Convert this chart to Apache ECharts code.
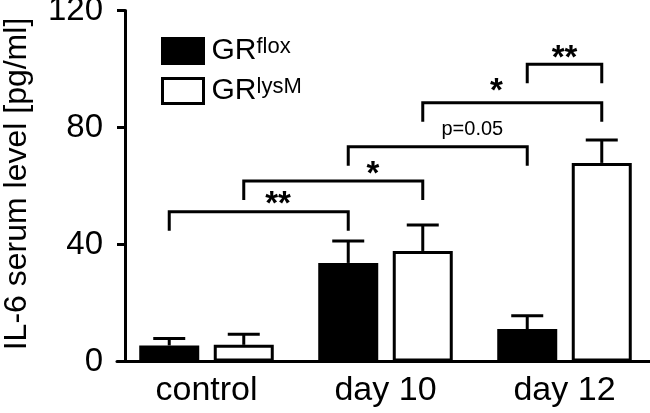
<!DOCTYPE html>
<html><head><meta charset="utf-8">
<script src="https://cdn.jsdelivr.net/npm/echarts@6/dist/echarts.min.js"></script>
<style>html,body{margin:0;padding:0;background:#fff}#c{width:650px;height:413px}</style>
</head><body><div id="c"></div>
<script>
// ---- data ----
const categories = ['control', 'day 10', 'day 12'];
const seriesNames = ['GRflox', 'GRlysM'];
const seriesSup = ['flox', 'lysM'];
const floxMean = [5.5, 33.7, 11.1];
const floxErr = [2.4, 7.5, 4.5];
const lysmMean = [5.7, 37.8, 67.9];
const lysmErr = [3.6, 8.9, 7.8];
const yTicks = [0, 40, 80, 120];
const yTitle = 'IL-6 serum level [pg/ml]';
// significance brackets: [category, series] endpoints, bracket level (pg/ml)
const bracketFrom = [[0, 0], [0, 1], [1, 0], [1, 1], [2, 0]];
const bracketTo = [[1, 0], [1, 1], [2, 0], [2, 1], [2, 1]];
const bracketLevel = [51.2, 61.7, 73.4, 88.5, 101.6];
const bracketLabel = ['**', '*', 'p=0.05', '*', '**'];
const bracketLabelAt = [0.40, 0.93, 1.485, 1.62, 2.0];     // category units
const bracketLabelLevel = [55.9, 66.2, 79.3, 94.5, 105.8]; // pg/ml

// ---- style ----
const FONT = '"Liberation Sans", Arial, Helvetica, sans-serif';
const BAR_W = 60, BAR_GAP = 0.242, BORDER = 3;
const HALF = BAR_W * (1 + BAR_GAP) / 2;
const DROP = 19, CAP = 16, LW = 3;

const chart = echarts.init(document.getElementById('c'), null, { renderer: 'canvas' });

function catX(api, v) {
  const i0 = Math.floor(v), fr = v - i0;
  const a = api.coord([i0, 0])[0];
  if (fr === 0) return a;
  const b = api.coord([i0 + 1 < categories.length ? i0 + 1 : i0 - 1, 0])[0];
  const step = i0 + 1 < categories.length ? (b - a) : (a - b);
  return a + step * fr;
}

function errSeries(means, errs, side) {
  return {
    type: 'custom',
    z: 3,
    clip: false,
    data: means.map((m, i) => [i, m, errs[i]]),
    encode: { x: 0, y: 1 },
    renderItem: function (params, api) {
      const base = api.coord([api.value(0), api.value(1)]);
      const top = api.coord([api.value(0), api.value(1) + api.value(2)]);
      const x = base[0] + (side === 0 ? -HALF : HALF);
      return {
        type: 'group',
        children: [
          { type: 'line', shape: { x1: x, y1: base[1], x2: x, y2: top[1] }, style: { stroke: '#000', lineWidth: LW } },
          { type: 'line', shape: { x1: x - CAP, y1: top[1], x2: x + CAP, y2: top[1] }, style: { stroke: '#000', lineWidth: LW } }
        ]
      };
    }
  };
}

const bracketSeries = {
  type: 'custom',
  z: 4,
  clip: false,
  data: bracketLevel.map((lv, i) => [bracketFrom[i][0], lv]),
  encode: { x: 0, y: 1 },
  renderItem: function (params, api) {
    const i = params.dataIndex;
    const f = bracketFrom[i], t = bracketTo[i];
    const y = api.coord([0, bracketLevel[i]])[1];
    const x1 = api.coord([f[0], 0])[0] + (f[1] === 0 ? -HALF : HALF);
    const x2 = api.coord([t[0], 0])[0] + (t[1] === 0 ? -HALF : HALF);
    const lx = catX(api, bracketLabelAt[i]);
    const ly = api.coord([0, bracketLabelLevel[i]])[1];
    const isStar = bracketLabel[i].indexOf('*') >= 0;
    return {
      type: 'group',
      children: [
        { type: 'polyline', shape: { points: [[x1, y + DROP], [x1, y], [x2, y], [x2, y + DROP]] },
          style: { stroke: '#000', lineWidth: LW, fill: null } },
        { type: 'text', x: lx, y: ly + (isStar ? 7 : 0),
          style: { text: bracketLabel[i], fill: '#000', font: (isStar ? 'bold 33px ' : '20px ') + FONT,
                   align: 'center', verticalAlign: 'middle' } }
      ]
    };
  }
};

const option = {
  animation: false,
  backgroundColor: '#fff',
  grid: { left: 117, top: 10.5, width: 537, height: 351, containLabel: false, outerBoundsMode: 'none' },
  legend: {
    orient: 'vertical', left: 156, top: 31,
    icon: 'rect',
    itemWidth: 41, itemHeight: 25, itemGap: 10,
    data: seriesNames,
    itemStyle: { borderWidth: 3, borderColor: '#000' },
    formatter: function (name) {
      const k = seriesNames.indexOf(name);
      return '{a|GR}{b|' + seriesSup[k] + '}';
    },
    textStyle: {
      color: '#000', fontFamily: FONT, fontSize: 30,
      rich: {
        a: { fontSize: 30, fontFamily: FONT, color: '#000', padding: [0, 0, 0, 3] },
        b: { fontSize: 22, fontFamily: FONT, color: '#000', verticalAlign: 'top' }
      }
    }
  },
  xAxis: {
    type: 'category', data: categories,
    axisLine: { show: true, lineStyle: { color: '#000', width: 3 } },
    axisTick: { show: false },
    axisLabel: { fontSize: 34, color: '#000', fontFamily: FONT, margin: 12 },
    splitLine: { show: false }
  },
  yAxis: {
    type: 'value', min: yTicks[0], max: yTicks[yTicks.length - 1], interval: yTicks[1] - yTicks[0],
    offset: -8,
    name: yTitle, nameLocation: 'middle', nameGap: 92, nameRotate: 90,
    nameTextStyle: { fontSize: 32, color: '#000', fontFamily: FONT, padding: [0, 0, 0, 4] },
    axisLine: { show: true, lineStyle: { color: '#000', width: 3 } },
    axisTick: { show: true, length: 8, lineStyle: { color: '#000', width: 3 } },
    axisLabel: { fontSize: 33, color: '#000', fontFamily: FONT, margin: 22 },
    splitLine: { show: false }
  },
  series: [
    { name: seriesNames[0], type: 'bar', data: floxMean, barWidth: BAR_W, barGap: (BAR_GAP * 100) + '%',
      itemStyle: { color: '#000', borderColor: '#000', borderWidth: BORDER } },
    { name: seriesNames[1], type: 'bar', data: lysmMean, barWidth: BAR_W, barGap: (BAR_GAP * 100) + '%',
      itemStyle: { color: '#fff', borderColor: '#000', borderWidth: BORDER } },
    errSeries(floxMean, floxErr, 0),
    errSeries(lysmMean, lysmErr, 1),
    bracketSeries
  ]
};
chart.setOption(option);
</script></body></html>
